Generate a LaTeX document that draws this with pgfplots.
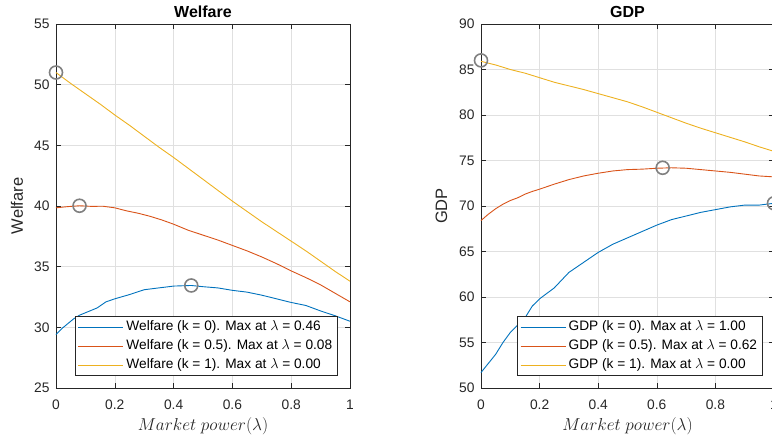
\documentclass[border=0pt]{standalone}
\usepackage{pgfplots}
\pgfplotsset{compat=1.18}
\usepackage{fontspec}
\setmainfont{Liberation Sans}
\definecolor{mblue}{rgb}{0,0.447,0.741}
\definecolor{morange}{rgb}{0.85,0.325,0.098}
\definecolor{myellow}{rgb}{0.929,0.694,0.125}
\definecolor{axgray}{rgb}{0.15,0.15,0.15}
\definecolor{circgray}{rgb}{0.5,0.5,0.5}

\pgfplotsset{
  mstyle/.style={
    scale only axis, width=294pt, height=364pt,
    xmin=0, xmax=1, xtick={0,0.2,0.4,0.6,0.8,1},
    axis line style={color=axgray, line width=0.7pt},
    tick style={color=axgray, line width=0.6pt},
    major tick length=5pt, tick align=inside,
    grid=major, major grid style={color=black!12, line width=0.6pt},
    tick label style={font=\fontsize{13.8}{15}\selectfont, color=axgray},
    xticklabel style={yshift=-8pt},
    yticklabel style={xshift=-3pt},
    /pgf/number format/assume math mode=true,
    title style={font=\bfseries\fontsize{16}{18}\selectfont, at={(axis description cs:0.5,1)}, anchor=base, yshift=0.5pt},
    ylabel style={font=\fontsize{16.5}{18}\selectfont, color=axgray, at={(axis description cs:0,0.5)}, anchor=base},
    xlabel style={font=\fontsize{17}{20}\selectfont, color=axgray, at={(axis description cs:0.5,0)}, anchor=base, yshift=-42pt},
    clip=false,
    legend cell align=left,
    legend style={font=\fontsize{13.7}{15}\selectfont, draw=axgray, line width=0.5pt, fill=white,
      anchor=south east, inner xsep=3pt, inner ysep=4pt, row sep=6pt,
      nodes={inner ysep=0pt, inner xsep=2.5pt, text height=10pt, text depth=3pt}},
    every axis plot/.append style={line width=0.9pt,
      legend image code/.code={\draw[line width=1.2pt] (0pt,0pt) -- (45pt,0pt);}},
  }
}

\begin{document}
\begin{tikzpicture}[x=1pt,y=1pt]
\path[use as bounding box] (0,0) rectangle (772,442);
\clip (0,0) rectangle (772,442);

\begin{axis}[mstyle, at={(56pt,54pt)}, anchor=south west,
  ymin=25, ymax=55, ytick={25,30,35,40,45,50,55},
  title={Welfare}, ylabel={Welfare}, ylabel style={yshift=33pt},
  xlabel={$Market\ power(\lambda)$},
  legend style={at={(0.959,0.033)}}]
\addplot[mblue] coordinates {
(0,29.4) (0.02,29.9) (0.04,30.3) (0.06,30.7) (0.08,31.0) (0.1,31.2) (0.12,31.4) (0.14,31.6)
(0.17,32.1) (0.2,32.35) (0.25,32.7) (0.3,33.1) (0.35,33.25) (0.4,33.4) (0.46,33.45) (0.5,33.35)
(0.55,33.25) (0.6,33.05) (0.65,32.9) (0.7,32.65) (0.75,32.35) (0.8,32.05) (0.85,31.8) (0.9,31.35)
(0.95,30.95) (1,30.5)};
\addlegendentry{Welfare (k = 0). Max at $\lambda$ = 0.46}
\addplot[morange] coordinates {
(0,39.85) (0.04,39.95) (0.08,40.02) (0.12,39.97) (0.16,39.98) (0.2,39.85) (0.24,39.6) (0.28,39.4)
(0.32,39.15) (0.36,38.85) (0.4,38.5) (0.45,38.0) (0.5,37.6) (0.55,37.2) (0.6,36.75) (0.65,36.3)
(0.7,35.8) (0.75,35.25) (0.8,34.65) (0.85,34.1) (0.9,33.5) (0.95,32.8) (1,32.1)};
\addlegendentry{Welfare (k = 0.5). Max at $\lambda$ = 0.08}
\addplot[myellow] coordinates {
(0,51.0) (0.05,50.1) (0.1,49.25) (0.15,48.4) (0.2,47.5) (0.25,46.65) (0.3,45.75) (0.35,44.85)
(0.4,44.0) (0.45,43.1) (0.5,42.2) (0.55,41.3) (0.6,40.4) (0.65,39.55) (0.7,38.7) (0.75,37.9)
(0.8,37.1) (0.85,36.3) (0.9,35.45) (0.95,34.6) (1,33.8)};
\addlegendentry{Welfare (k = 1). Max at $\lambda$ = 0.00}
\addplot[forget plot, only marks, mark=o, mark size=6.5pt, mark options={draw=circgray, line width=1.6pt}]
coordinates {(0.46,33.45) (0.08,40.02) (0,51.0)};
\end{axis}

\begin{axis}[mstyle, at={(481pt,54pt)}, anchor=south west, width=293pt,
  ymin=50, ymax=90, ytick={50,55,60,65,70,75,80,85,90},
  title={GDP}, ylabel={GDP}, ylabel style={yshift=34pt},
  xlabel={$Market\ power(\lambda)$},
  legend style={at={(0.962,0.033)}}]
\addplot[mblue] coordinates {
(0,51.7) (0.025,52.7) (0.05,53.7) (0.075,55.0) (0.1,56.1) (0.125,56.9) (0.15,57.7) (0.175,59.0)
(0.2,59.8) (0.25,61.0) (0.3,62.7) (0.35,63.8) (0.4,64.9) (0.45,65.8) (0.5,66.5) (0.55,67.2)
(0.6,67.9) (0.65,68.5) (0.7,68.9) (0.75,69.3) (0.8,69.6) (0.85,69.9) (0.9,70.1) (0.95,70.1) (1,70.3)};
\addlegendentry{GDP (k = 0). Max at $\lambda$ = 1.00}
\addplot[morange] coordinates {
(0,68.4) (0.025,69.1) (0.05,69.7) (0.075,70.2) (0.1,70.6) (0.125,70.9) (0.15,71.3) (0.175,71.6)
(0.2,71.85) (0.25,72.4) (0.3,72.9) (0.35,73.3) (0.4,73.6) (0.45,73.85) (0.5,74.0) (0.55,74.05)
(0.6,74.15) (0.65,74.2) (0.7,74.15) (0.75,74.0) (0.8,73.85) (0.85,73.7) (0.9,73.5) (0.95,73.3) (1,73.2)};
\addlegendentry{GDP (k = 0.5). Max at $\lambda$ = 0.62}
\addplot[myellow] coordinates {
(0,85.9) (0.05,85.5) (0.1,85.0) (0.15,84.6) (0.2,84.1) (0.25,83.6) (0.3,83.2) (0.35,82.8)
(0.4,82.35) (0.45,81.9) (0.5,81.45) (0.55,80.9) (0.6,80.3) (0.65,79.7) (0.7,79.1) (0.75,78.55)
(0.8,78.05) (0.85,77.55) (0.9,77.05) (0.95,76.5) (1,76.0)};
\addlegendentry{GDP (k = 1). Max at $\lambda$ = 0.00}
\addplot[forget plot, only marks, mark=o, mark size=6.5pt, mark options={draw=circgray, line width=1.6pt}]
coordinates {(1,70.3) (0.62,74.2) (0,86.0)};
\end{axis}
\end{tikzpicture}
\end{document}
